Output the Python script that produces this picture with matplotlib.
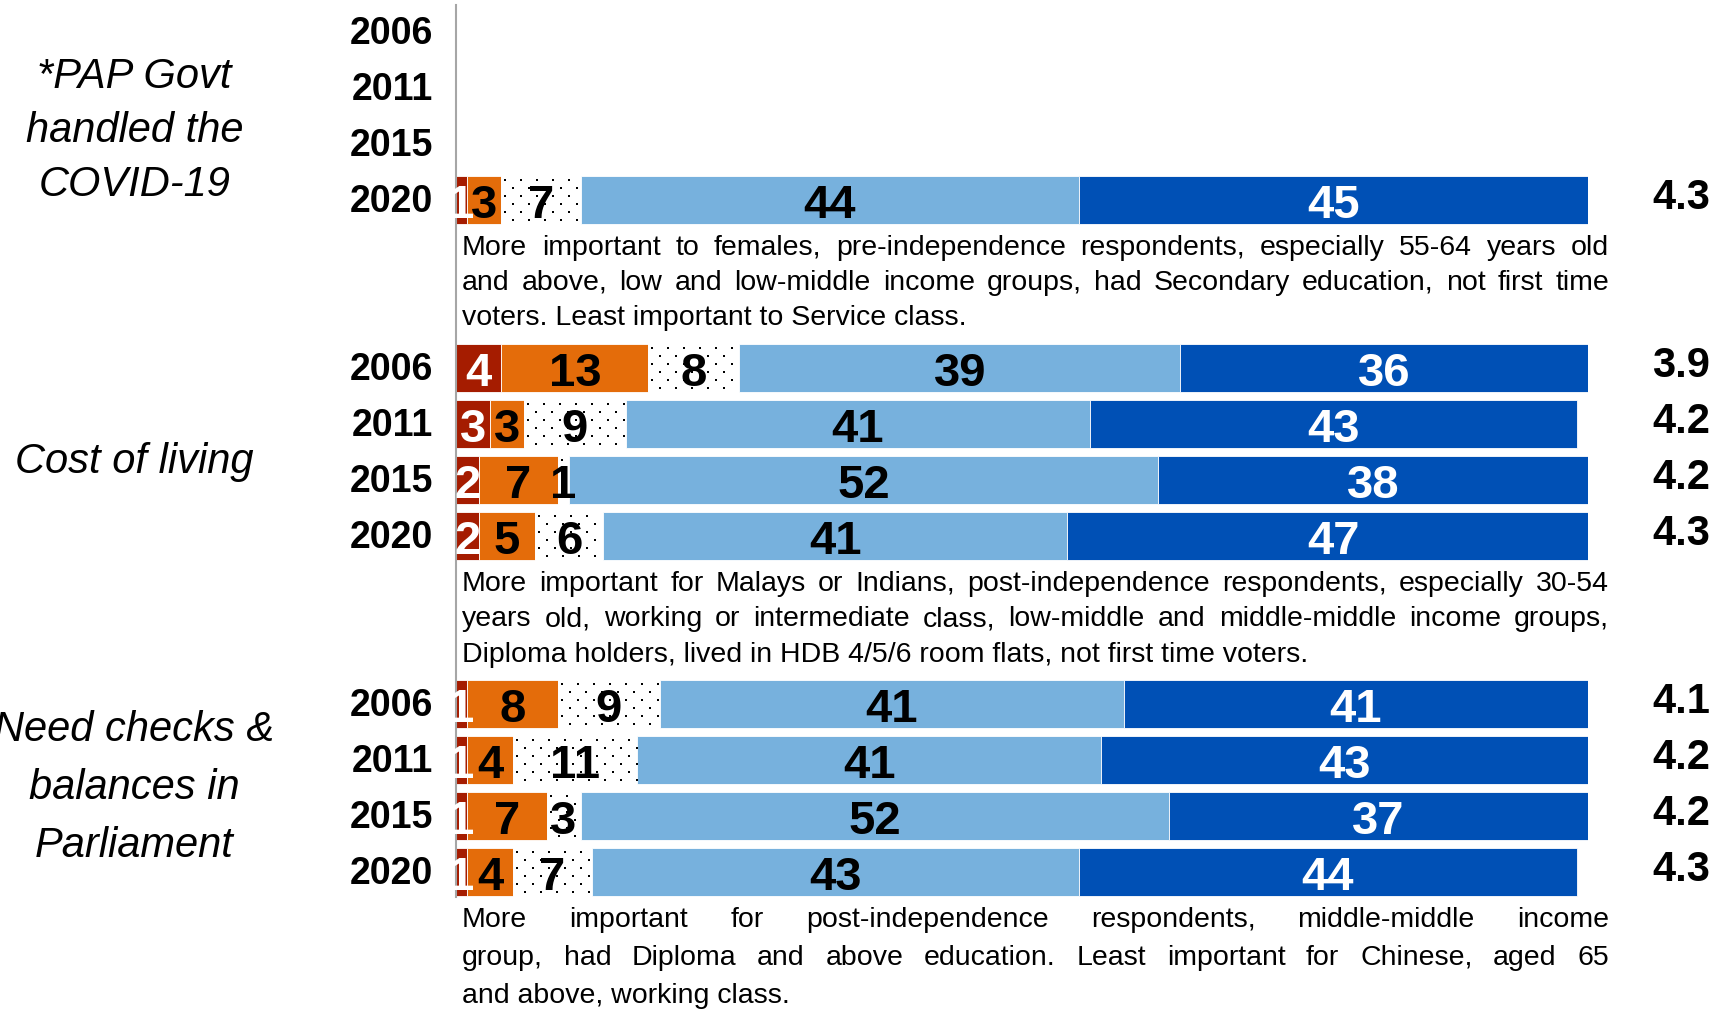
import numpy as np
import matplotlib.pyplot as plt
from matplotlib.transforms import Affine2D

plt.rcParams['font.family'] = ['Liberation Sans', 'DejaVu Sans']

years = ['2006', '2011', '2015', '2020']
topics = [['*PAP Govt', 'handled the', 'COVID-19'],
          ['Cost of living'],
          ['Need checks &', 'balances in', 'Parliament']]

# % per answer, from "not at all important" up to "very important"
covid_pct = [None, None, None, [1, 3, 7, 44, 45]]
cost_pct = [[4, 13, 8, 39, 36], [3, 3, 9, 41, 43], [2, 7, 1, 52, 38], [2, 5, 6, 41, 47]]
checks_pct = [[1, 8, 9, 41, 41], [1, 4, 11, 41, 43], [1, 7, 3, 52, 37], [1, 4, 7, 43, 44]]

# mean score on the 5-point scale
covid_mean = [None, None, None, 4.3]
cost_mean = [3.9, 4.2, 4.2, 4.3]
checks_mean = [4.1, 4.2, 4.2, 4.3]

covid_note = ['More important to females, pre-independence respondents, especially 55-64 years old',
              'and above, low and low-middle income groups, had Secondary education, not first time',
              'voters. Least important to Service class.']
cost_note = ['More important for Malays or Indians, post-independence respondents, especially 30-54',
             'years old, working or intermediate class, low-middle and middle-middle income groups,',
             'Diploma holders, lived in HDB 4/5/6 room flats, not first time voters.']
checks_note = ['More important for post-independence respondents, middle-middle income',
               'group, had Diploma and above education. Least important for Chinese, aged 65',
               'and above, working class.']

seg_colors = ['#A51C00', '#E46C0A', 'white', '#77B1DD', '#0050B5']
seg_text = ['white', 'black', 'black', 'black', 'white']

W, H = 1727, 1010
ax_l, ax_t, ax_w, ax_h = 456, 5, 1132, 892
fig = plt.figure(figsize=(W / 100, H / 100), dpi=100)
ax = fig.add_axes([ax_l / W, 1 - (ax_t + ax_h) / H, ax_w / W, ax_h / H])
ax.set_xlim(0, 100)
ax.set_ylim(15.45, -0.48)
for side in ['top', 'right', 'bottom']:
    ax.spines[side].set_visible(False)
ax.spines['left'].set_color('#A6A6A6')
ax.spines['left'].set_linewidth(1.5)
ax.set_xticks([])
ax.set_yticks([])

renderer = fig.canvas.get_renderer()
px_x = 100 / ax_w                 # data units per pixel
px_y = (15.45 + 0.48) / ax_h


def shifted(dx, dy):
    return ax.transData + Affine2D().translate(dx, dy)


def dot_fill(x0, w, yc, h):
    # sparse dotted pattern for the neutral answer
    dx, dy = 16 * px_x, 8 * px_y
    xs, ys = [], []
    for i, yy in enumerate(np.arange(yc - h / 2 + dy / 2, yc + h / 2, dy)):
        start = x0 + dx / 4 + (i % 2) * dx / 2
        for xx in np.arange(start, x0 + w, dx):
            xs.append(xx)
            ys.append(yy)
    ax.scatter(xs, ys, marker='s', s=1.1, color='black', linewidths=0, zorder=2.5)


def note_block(lines, y_row, gap_px, size=20.5):
    x0_px, width_px = 6, 1147
    for k, line in enumerate(lines):
        dy = -(55 + k * gap_px)
        if k == len(lines) - 1:
            t = ax.text(0, y_row, line, fontsize=size, va='baseline', ha='left')
            t.set_transform(shifted(x0_px, dy))
            continue
        words = line.split()
        objs = [ax.text(0, y_row, w, fontsize=size, va='baseline', ha='left') for w in words]
        widths = [o.get_window_extent(renderer).width for o in objs]
        gap = (width_px - sum(widths)) / (len(words) - 1)
        pos = x0_px
        for o, wd in zip(objs, widths):
            o.set_transform(shifted(pos, dy))
            pos += wd + gap


pct_sets = [covid_pct, cost_pct, checks_pct]
mean_sets = [covid_mean, cost_mean, checks_mean]
note_sets = [covid_note, cost_note, checks_note]
note_gap = [35, 35.5, 38]
label_gap = [54, 0, 58]
label_shift = [11, 6, -4]
bar_h = 0.86

for g in range(3):
    base = g * 6
    for r, year in enumerate(years):
        y = base + r
        ax.text(-2.0, y + 0.215, year, ha='right', va='baseline',
                fontsize=27, fontweight='bold')
        vals = pct_sets[g][r]
        if vals is None:
            continue
        left = 0
        for k, v in enumerate(vals):
            ax.barh(y, v, left=left, height=bar_h, color=seg_colors[k],
                    edgecolor='white', linewidth=0.6, zorder=2)
            if k == 2:
                dot_fill(left, v, y, bar_h)
            ax.text(left + v / 2, y + 0.33, str(v), ha='center', va='baseline',
                    fontsize=34, fontweight='bold', color=seg_text[k], zorder=4)
            left += v
        ax.text(105.7, y + 0.16, f'{mean_sets[g][r]:.1f}', ha='left', va='baseline',
                fontsize=30, fontweight='bold')

    note_block(note_sets[g], base + 3, note_gap[g])

    # topic name on the left, one text per line
    lines = topics[g]
    n = len(lines)
    for j, line in enumerate(lines):
        dy = -((j - (n - 1) / 2) * label_gap[g] + label_shift[g] + 15)
        t = ax.text(-28.4, base + 1.5, line, ha='center', va='baseline',
                    fontsize=30, style='italic')
        t.set_transform(shifted(0, dy))

fig.savefig('out.png', dpi=100)
